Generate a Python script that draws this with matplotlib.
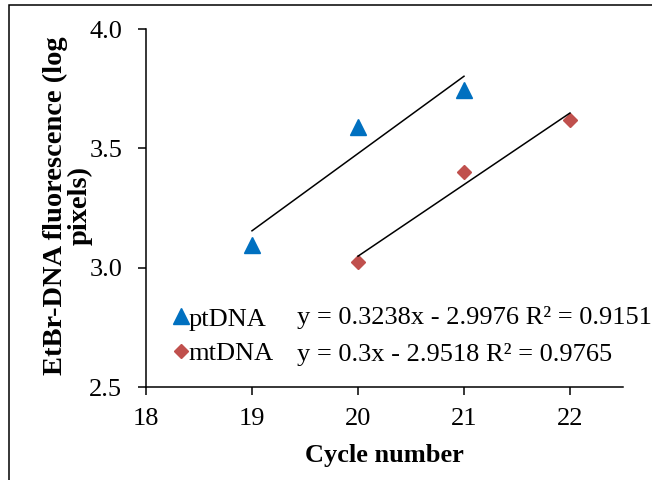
import matplotlib
matplotlib.use("Agg")
from matplotlib import pyplot as plt
from matplotlib.patches import Rectangle
import numpy as np

plt.rcParams['font.family'] = 'Liberation Serif'
plt.rcParams['font.size'] = 19

# === DATA ===
pt_cycles = [19, 20, 21]
pt_values = [3.095, 3.591, 3.744]
mt_cycles = [20, 21, 22]
mt_values = [3.024, 3.402, 3.619]

# trendline coefficients (slope, intercept) and R^2
pt_fit = [0.3238, -2.9976]
pt_r2 = 0.9151
mt_fit = [0.3, -2.9518]
mt_r2 = 0.9765

x_ticks = [18, 19, 20, 21, 22]
y_ticks = [2.5, 3.0, 3.5, 4.0]

pt_color = '#0070C0'
mt_color = '#C0504D'

fig = plt.figure(figsize=(6.52, 4.8), dpi=100)
ax = fig.add_axes([0.2239, 0.1937, 0.7316, 0.7458])

# outer frame around the chart area
fig.patches.append(Rectangle((9 / 652, -0.1), 1.2, 1 - 5 / 480 + 0.1,
                             transform=fig.transFigure, fill=False,
                             edgecolor='black', linewidth=1.1, zorder=0))

ax.plot(pt_cycles, pt_values, linestyle='none', marker='^', markersize=11,
        color=pt_color, label='ptDNA')
ax.plot(mt_cycles, mt_values, linestyle='none', marker='D', markersize=7.6,
        color=mt_color, label='mtDNA')

# linear trendlines over each series' range
for cycles, fit in [(pt_cycles, pt_fit), (mt_cycles, mt_fit)]:
    xs = np.array([min(cycles), max(cycles)])
    ax.plot(xs, fit[0] * xs + fit[1], color='black', linewidth=1.1)

ax.set_xlim(18, 22.5)
ax.set_ylim(2.5, 4.0)
ax.set_xticks(x_ticks)
ax.set_yticks(y_ticks)
ax.set_yticklabels([f'{v:.1f}' for v in y_ticks])

for side in ['top', 'right']:
    ax.spines[side].set_visible(False)
for side in ['left', 'bottom']:
    ax.spines[side].set_linewidth(1.1)
ax.tick_params(axis='both', direction='out', length=6, width=1.1)
ax.tick_params(axis='y', pad=11)
ax.tick_params(axis='x', pad=9)

ax.set_xlabel('Cycle number', fontweight='bold', labelpad=10)
ax.set_ylabel('EtBr-DNA fluorescence (log\npixels)', fontweight='bold',
              fontsize=20.5, linespacing=0.95)
ax.yaxis.set_label_coords(-0.112, 0.506)

ax.legend(loc='center left', bbox_to_anchor=(0.0566, 0.1425), frameon=False,
          handlelength=0.6, handletextpad=0.0, borderpad=0,
          borderaxespad=0, labelspacing=0.4)

def eq_text(fit, r2):
    sign = '-' if fit[1] < 0 else '+'
    return f'y = {fit[0]:g}x {sign} {abs(fit[1]):.4f} R² = {r2:.4f}'

ax.text(0.3166, 0.193, eq_text(pt_fit, pt_r2), transform=ax.transAxes, va='center')
ax.text(0.3166, 0.092, eq_text(mt_fit, mt_r2), transform=ax.transAxes, va='center')

fig.savefig('out.png', dpi=100)
